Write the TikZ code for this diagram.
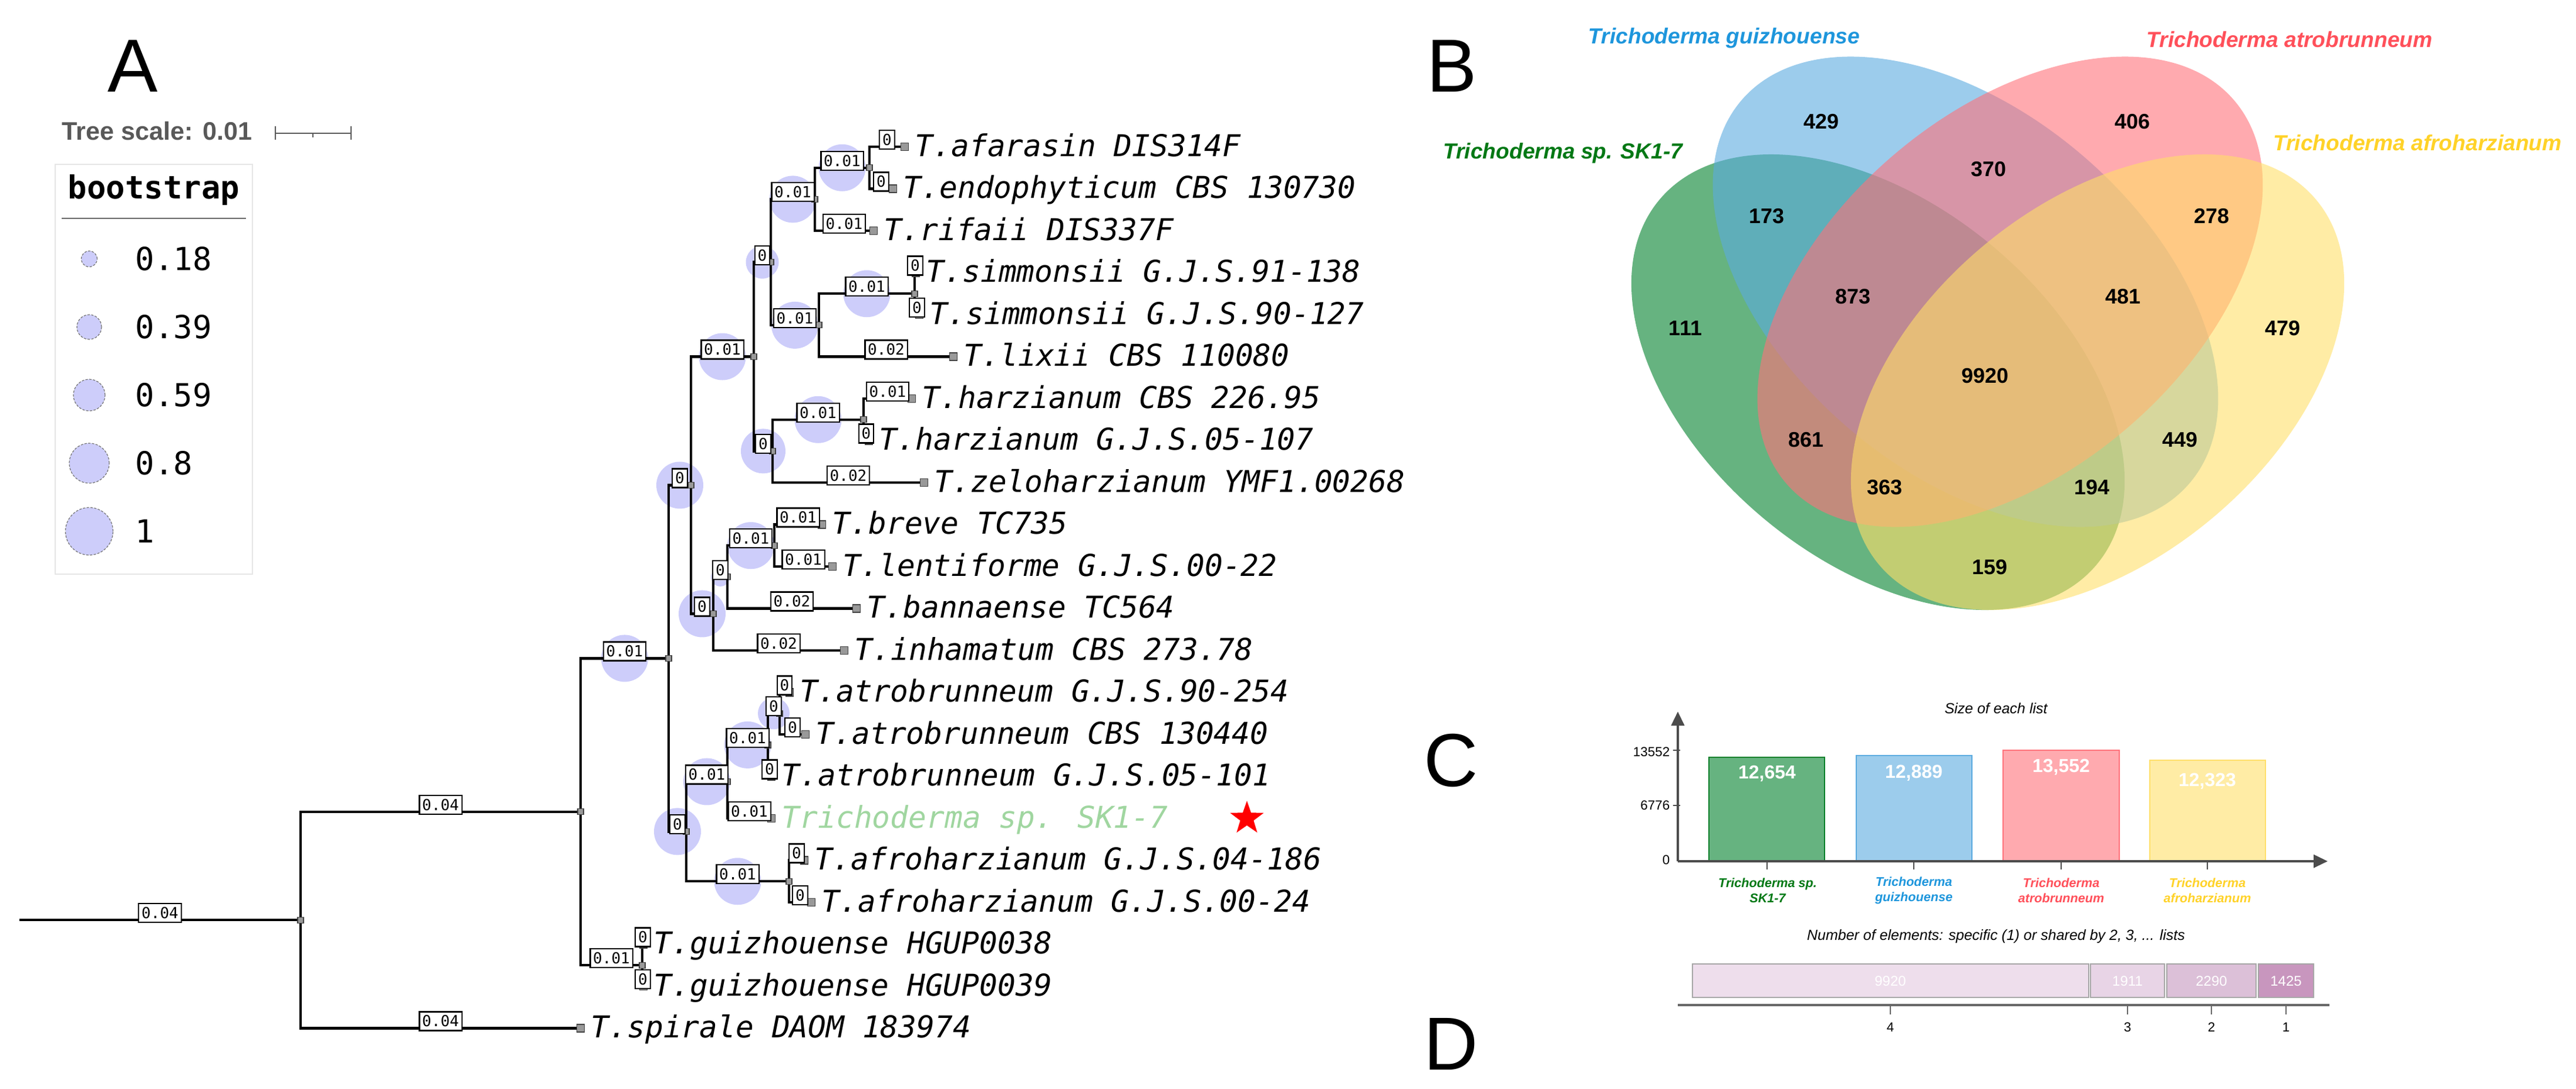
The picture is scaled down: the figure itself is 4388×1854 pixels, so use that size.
\documentclass[tikz,border=0pt]{standalone}
\usepackage{fontspec}
\setmainfont{Liberation Sans}
\newfontfamily\treemono{DejaVu Sans Mono}
\newfontfamily\treemonoit{DejaVu Sans Mono Oblique}
\usetikzlibrary{arrows.meta,shapes.geometric}
\pgfdeclarelayer{bg}
\pgfsetlayers{bg,main}

\definecolor{bootfill}{RGB}{205,205,250}
\definecolor{skgreen}{RGB}{160,214,160}
\definecolor{vgreen}{RGB}{0,128,43}
\definecolor{vblue}{RGB}{90,170,223}
\definecolor{vpink}{RGB}{255,113,122}
\definecolor{vyellow}{RGB}{255,223,105}
\definecolor{tgreen}{RGB}{0,120,20}
\definecolor{tblue}{RGB}{30,150,220}
\definecolor{tpink}{RGB}{255,80,90}
\definecolor{tyellow}{RGB}{255,210,40}
\definecolor{lil1}{RGB}{238,222,236}
\definecolor{lil2}{RGB}{232,212,230}
\definecolor{lil3}{RGB}{220,192,216}
\definecolor{lil4}{RGB}{200,150,190}

% row position of a leaf (or of an inner node)
\newcommand{\ry}[1]{250+71.5*(#1)}

\tikzset{
  panel/.style={inner sep=0pt, font=\fontsize{32}{36}\selectfont},
  branch/.style={line width=1.1pt, line join=miter},
  brlabel/.style={draw=black, line width=0.55pt, fill=white, inner xsep=1.2pt, inner ysep=1.2pt,
    minimum height=8pt, yshift=3pt, font=\treemono\fontsize{6.5}{7}\selectfont},
  nodesq/.style={draw=black!75, fill=black!40, line width=0.3pt, inner sep=0pt, minimum size=2.5pt},
  tipsq/.style={nodesq, minimum size=3.25pt},
  tiplbl/.style={anchor=base west, inner sep=0pt, font=\treemonoit\fontsize{12.8}{14}\selectfont},
  legtext/.style={anchor=west, inner sep=0pt, font=\treemono\fontsize{13.5}{15}\selectfont},
  vnum/.style={inner sep=0pt, font=\bfseries\fontsize{9}{10}\selectfont},
  vtitle/.style={inner sep=0pt, font=\bfseries\itshape\fontsize{9.3}{10}\selectfont},
  axisc/.style={black!70, line width=1pt},
  catlbl/.style={align=center, inner sep=0pt, font=\bfseries\itshape\fontsize{5.4}{6.5}\selectfont},
  vallbl/.style={text=white, inner sep=0pt, font=\bfseries\fontsize{8}{9}\selectfont},
  small/.style={inner sep=0pt, font=\fontsize{5.6}{6.5}\selectfont},
  seglbl/.style={text=white, inner sep=0pt, font=\fontsize{6}{7}\selectfont},
}

% parent/child/branch length/bootstrap circle radius
\def\brlist{root/n1/0.04/0, n1/n2/0.04/0, n1/t21/0.04/0, n2/ng/0.01/0, ng/t19/0/0, ng/t20/0/0,
  n2/n3/0.01/40, n3/nm/0/40, n3/ns/0/40, nm/nl/0.01/40, nm/nc/0/40, nl/ni/0/28, nl/nk/0/38,
  ni/nf/0.01/40, ni/nh/0.01/40, nf/ne/0.01/40, nf/t2/0.01/0, ne/t0/0/0, ne/t1/0/0,
  nh/ngs/0.01/40, nh/t5/0.02/0, ngs/t3/0/0, ngs/t4/0/0, nk/nj/0.01/40, nk/t8/0.02/0,
  nj/t6/0.01/0, nj/t7/0/0, nc/nb/0/16, nc/t12/0.02/0, nb/na/0.01/40, nb/t11/0.02/0,
  na/t9/0.01/0, na/t10/0.01/0, ns/nr/0.01/40, ns/nt/0.01/40, nr/nq/0.01/40, nr/t16/0.01/0,
  nq/np/0/27, nq/t15/0/0, np/t13/0/0, np/t14/0/0, nt/t17/0/0, nt/t18/0/0}

\begin{document}
\begin{tikzpicture}[x=0.25pt, y=-0.25pt]
\useasboundingbox (0,0) rectangle (4388,1854);

\node[panel] (labA) at (226,112) {A};
\node[panel] (labB) at (2473,112) {B};
\node[panel] (labC) at (2472,1295) {C};
\node[panel] (labD) at (2472,1778) {D};

% tree scale and legend
\node[anchor=west, inner sep=0pt, text=black!65, font=\bfseries\fontsize{10.8}{12}\selectfont] (scale) at (105,223) {Tree scale: 0.01};
\draw[black!65, line width=0.7pt] (469,227) -- (598,227);
\draw[black!65, line width=0.7pt] (469,215) -- (469,238) (598,215) -- (598,238) (533,227) -- (533,234);

\draw[black!10, line width=0.5pt] (94,280) rectangle (430,978);
\node[inner sep=0pt, font=\treemono\bfseries\fontsize{13.5}{15}\selectfont] (boottitle) at (262,324) {bootstrap};
\draw[black!60, line width=0.6pt] (105,372) -- (419,372);
\foreach \v/\r [count=\i from 0] in {0.18/13.5, 0.39/21, 0.59/27, 0.8/34, 1/40.5} {
  \fill[bootfill] (152,{441+116*\i}) circle[radius=\r*0.25pt];
  \draw[black!55, line width=0.3pt, dash pattern=on 1pt off 0.6pt] (152,{441+116*\i}) circle[radius=\r*0.25pt];
  \node[legtext] (leg\i) at (230,{441+116*\i}) {\v};
}

% tree: inner nodes
\coordinate (root) at (33,{\ry{18.421875}});
\coordinate (n1) at (512,{\ry{18.421875}});
\coordinate (n2) at (989,{\ry{15.84375}});
\coordinate (ng) at (1094,{\ry{19.5}});
\coordinate (n3) at (1139,{\ry{12.1875}});
\coordinate (nm) at (1177,{\ry{8.0625}});
\coordinate (nl) at (1284,{\ry{5}});
\coordinate (ni) at (1313,{\ry{2.75}});
\coordinate (nf) at (1388,{\ry{1.25}});
\coordinate (ne) at (1481,{\ry{0.5}});
\coordinate (nh) at (1395,{\ry{4.25}});
\coordinate (ngs) at (1558,{\ry{3.5}});
\coordinate (nk) at (1316,{\ry{7.25}});
\coordinate (nj) at (1471,{\ry{6.5}});
\coordinate (nc) at (1215,{\ry{11.125}});
\coordinate (nb) at (1239,{\ry{10.25}});
\coordinate (na) at (1319,{\ry{9.5}});
\coordinate (ns) at (1169,{\ry{16.3125}});
\coordinate (nr) at (1239,{\ry{15.125}});
\coordinate (nq) at (1308,{\ry{14.25}});
\coordinate (np) at (1328,{\ry{13.5}});
\coordinate (nt) at (1344,{\ry{17.5}});
% leaves
\foreach \tx [count=\i from 0] in {1541,1521,1488,1560,1566,1624,1553,1480,1574,1400,1418,1459,
    1438,1345,1372,1314,1314,1370,1382,1096,1096,989}
  \coordinate (t\i) at (\tx,{\ry{\i}});

\foreach \p/\c/\l/\rad in \brlist {
  \ifnum\rad>0
    \begin{pgfonlayer}{bg}
      \path (\p) |- (\c) coordinate[pos=0.75] (bc);
      \fill[bootfill] (bc) circle[radius=\rad*0.25pt];
    \end{pgfonlayer}
  \fi
  \draw[branch] (\p) |- (\c);
}
\foreach \n in {n1,n2,ng,n3,nm,nl,ni,nf,ne,nh,ngs,nk,nj,nc,nb,na,ns,nr,nq,np,nt}
  \node[nodesq] at (\n) {};
\foreach \i in {0,...,21}
  \node[tipsq] at (t\i) {};
\foreach \p/\c/\l/\rad in \brlist
  \path (\p) |- (\c) node[pos=0.75, brlabel] {\l};

\foreach \i/\txt in {0/T.afarasin DIS314F, 1/T.endophyticum CBS 130730, 2/T.rifaii DIS337F,
    3/T.simmonsii G.J.S.91-138, 4/T.simmonsii G.J.S.90-127, 5/T.lixii CBS 110080,
    6/T.harzianum CBS 226.95, 7/T.harzianum G.J.S.05-107, 8/T.zeloharzianum YMF1.00268,
    9/T.breve TC735, 10/T.lentiforme G.J.S.00-22, 11/T.bannaense TC564,
    12/T.inhamatum CBS 273.78, 13/T.atrobrunneum G.J.S.90-254, 14/T.atrobrunneum CBS 130440,
    15/T.atrobrunneum G.J.S.05-101, 17/T.afroharzianum G.J.S.04-186,
    18/T.afroharzianum G.J.S.00-24, 19/T.guizhouense HGUP0038, 20/T.guizhouense HGUP0039,
    21/T.spirale DAOM 183974}
  \node[tiplbl] (lab\i) at ([xshift=4.25pt,yshift=-4.1pt]t\i) {\txt};
\node[tiplbl, text=skgreen] (lab16) at ([xshift=4.25pt,yshift=-4.1pt]t16) {Trichoderma sp. SK1-7};
\node[star, star points=5, star point ratio=2.5, fill=red, inner sep=0pt, minimum size=15pt] (skstar) at (2124,{\ry{16}}) {};

% Venn diagram
\fill[vgreen, fill opacity=0.6] (3199,651) ellipse [x radius=121.25pt, y radius=75.75pt, rotate=-39.8];
\fill[vblue, fill opacity=0.6] (3348,497) ellipse [x radius=125.5pt, y radius=76.5pt, rotate=-40.5];
\fill[vpink, fill opacity=0.6] (3424,497) ellipse [x radius=125.5pt, y radius=76.5pt, rotate=40.5];
\fill[vyellow, fill opacity=0.6] (3573,651) ellipse [x radius=121.25pt, y radius=75.75pt, rotate=39.8];
\foreach \x/\y/\n in {2871/559/111, 3102/207/429, 3632/207/406, 3888/559/479, 3009/368/173,
    3387/288/370, 3767/368/278, 3156/505/873, 3616/505/481, 3381/640/9920, 3076/749/861,
    3713/749/449, 3210/830/363, 3563/830/194, 3389/966/159}
  \node[vnum] (v\n) at (\x,\y) {\n};
\node[vtitle, text=tgreen, anchor=east] (titSK) at (2867,261) {Trichoderma sp. SK1-7};
\node[vtitle, text=tblue] (titGu) at (2937,65) {Trichoderma guizhouense};
\node[vtitle, text=tpink] (titAt) at (3900,67) {Trichoderma atrobrunneum};
\node[vtitle, text=tyellow] (titAf) at (4118,243) {Trichoderma afroharzianum};

% size of each list
\node[small, font=\itshape\fontsize{6.25}{7}\selectfont] (sizetitle) at (3400,1207) {Size of each list};
\draw[vgreen, line width=0.7pt, fill=vgreen!60] (2911,1467) rectangle (3108,1290);
\draw[vblue, line width=0.5pt, fill=vblue!60] (3162,1467) rectangle (3359,1287);
\draw[vpink, line width=0.5pt, fill=vpink!60] (3412,1467) rectangle (3610,1278);
\draw[vyellow, line width=0.5pt, fill=vyellow!60] (3662,1467) rectangle (3859,1295);
\node[vallbl] (val1) at (3010,1318) {12,654};
\node[vallbl] (val2) at (3260,1317) {12,889};
\node[vallbl] (val3) at (3511,1307) {13,552};
\node[vallbl] (val4) at (3760,1331) {12,323};
\draw[axisc, -{Triangle[length=6pt, width=5.5pt]}] (2858,1467) -- (2858,1212);
\draw[axisc, -{Triangle[length=6pt, width=5.5pt]}] (2858,1467) -- (3965,1467);
\draw[black!70, line width=0.3pt] (2850,1278) -- (2862,1278) (2850,1372) -- (2862,1372);
\foreach \x in {3010,3260,3511,3760}
  \draw[black!70, line width=0.3pt] (\x,1467) -- (\x,1481);
\node[small, anchor=east] (yt1) at (2845,1281) {13552};
\node[small, anchor=east] (yt2) at (2845,1372) {6776};
\node[small, anchor=east] (yt3) at (2845,1465) {0};
\node[catlbl, text=tgreen] (cat1) at (3011,1517) {Trichoderma sp.\\SK1-7};
\node[catlbl, text=tblue] (cat2) at (3260,1517) {Trichoderma\\guizhouense};
\node[catlbl, text=tpink] (cat3) at (3511,1517) {Trichoderma\\atrobrunneum};
\node[catlbl, text=tyellow] (cat4) at (3760,1517) {Trichoderma\\afroharzianum};

% shared elements
\node[small, font=\itshape\fontsize{6.25}{7}\selectfont] (sharetitle) at (3400,1595) {Number of elements: specific (1) or shared by 2, 3, ... lists};
\draw[black!35, line width=0.5pt, fill=lil1] (2883,1642) rectangle (3558,1699);
\draw[black!35, line width=0.5pt, fill=lil2] (3561,1642) rectangle (3687,1699);
\draw[black!35, line width=0.5pt, fill=lil3] (3691,1642) rectangle (3843,1699);
\draw[black!35, line width=0.5pt, fill=lil4] (3847,1642) rectangle (3941,1699);
\node[seglbl] (s4) at (3220,1671) {9920};
\node[seglbl] (s3) at (3624,1671) {1911};
\node[seglbl] (s2) at (3767,1671) {2290};
\node[seglbl] (s1) at (3894,1671) {1425};
\draw[black!60, line width=1pt] (2858,1712) -- (3968,1712);
\foreach \x/\k in {3220/4, 3624/3, 3767/2, 3894/1} {
  \draw[black!60, line width=0.3pt] (\x,1712) -- (\x,1728);
  \node[small] (k\k) at (\x,1750) {\k};
}
\end{tikzpicture}
\end{document}
